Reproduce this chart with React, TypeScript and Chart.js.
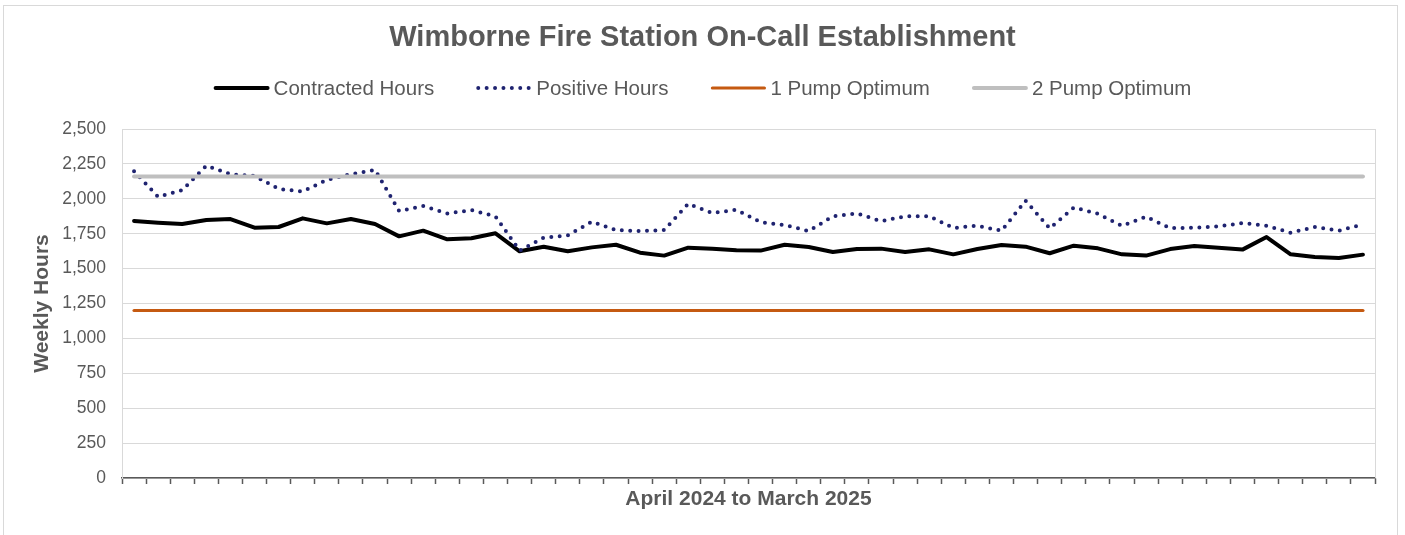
import React, { useEffect, useRef } from "react";
import { Chart, registerables } from "chart.js";

Chart.register(...registerables);

// ---- Data ----
const CATEGORIES: string[] = Array.from({ length: 52 }, (_, i) => `Week ${i + 1}`);

const CONTRACTED_HOURS: number[] = [
  1841, 1829, 1819, 1848, 1855, 1793, 1798, 1860, 1824, 1855,
  1819, 1731, 1772, 1710, 1717, 1753, 1624, 1657, 1624, 1652,
  1671, 1614, 1593, 1650, 1643, 1631, 1629, 1671, 1655, 1619,
  1640, 1643, 1619, 1638, 1602, 1640, 1669, 1657, 1610, 1664,
  1645, 1602, 1593, 1640, 1662, 1650, 1636, 1726, 1602, 1583,
  1576, 1600,
];

const POSITIVE_HOURS: number[] = [
  2198, 2014, 2062, 2238, 2176, 2164, 2071, 2052, 2136, 2176,
  2207, 1912, 1948, 1895, 1919, 1874, 1629, 1721, 1738, 1836,
  1776, 1769, 1776, 1964, 1898, 1921, 1833, 1812, 1769, 1874,
  1895, 1840, 1874, 1876, 1791, 1807, 1771, 1986, 1788, 1938,
  1893, 1807, 1871, 1790, 1793, 1802, 1826, 1807, 1757, 1798,
  1771, 1817,
];

const ONE_PUMP_OPTIMUM = 1200;
const TWO_PUMP_OPTIMUM = 2160;

const Y_MIN = 0;
const Y_MAX = 2500;
const Y_STEP = 250;

const TITLE = "Wimborne Fire Station On-Call Establishment";
const X_TITLE = "April 2024 to March 2025";
const Y_TITLE = "Weekly Hours";

// ---- Styles ----
const FONT = "'Liberation Sans', Arial, Helvetica, sans-serif";
const TEXT = "#595959";
const GRID = "#d9d9d9";

const customLegend = {
  id: "customLegend",
  afterDraw(chart: any) {
    const ctx = chart.ctx as CanvasRenderingContext2D;
    ctx.save();
    ctx.font = `20.5px ${FONT}`;
    const sample = 56;
    const gapText = 4;
    const gapItem = 42;
    const items = chart.data.datasets.map((ds: any) => ({
      ds,
      w: ctx.measureText(ds.label).width,
    }));
    const total =
      items.reduce((s: number, it: any) => s + sample + gapText + it.w, 0) +
      gapItem * (items.length - 1);
    let x = chart.width / 2 - total / 2;
    const y = 88;
    items.forEach(({ ds, w }: any) => {
      ctx.beginPath();
      ctx.strokeStyle = ds.borderColor;
      ctx.lineWidth = ds.borderWidth;
      ctx.lineCap = ds.borderCapStyle || "butt";
      ctx.setLineDash(ds.borderDash || []);
      ctx.moveTo(x + 2, y);
      ctx.lineTo(x + sample - 2, y);
      ctx.stroke();
      ctx.setLineDash([]);
      ctx.fillStyle = TEXT;
      ctx.textBaseline = "middle";
      ctx.textAlign = "left";
      ctx.fillText(ds.label, x + sample + gapText, y + 1);
      x += sample + gapText + w + gapItem;
    });
    ctx.restore();
  },
};

const plotBorder = {
  id: "plotBorder",
  beforeDatasetsDraw(chart: any) {
    const { ctx, chartArea } = chart;
    ctx.save();
    ctx.strokeStyle = GRID;
    ctx.lineWidth = 1;
    ctx.beginPath();
    ctx.moveTo(Math.round(chartArea.right) + 0.5, chartArea.top);
    ctx.lineTo(Math.round(chartArea.right) + 0.5, chartArea.bottom);
    ctx.stroke();
    ctx.restore();
  },
};

export default function App() {
  const canvasRef = useRef<HTMLCanvasElement | null>(null);

  useEffect(() => {
    if (!canvasRef.current) return;
    const chart = new Chart(canvasRef.current, {
      type: "line",
      data: {
        labels: CATEGORIES,
        datasets: [
          {
            label: "Contracted Hours",
            data: CONTRACTED_HOURS,
            borderColor: "#000000",
            backgroundColor: "#000000",
            borderWidth: 4,
            borderCapStyle: "round",
            borderJoinStyle: "round",
            pointRadius: 0,
            tension: 0,
            order: 4,
          },
          {
            label: "Positive Hours",
            data: POSITIVE_HOURS,
            borderColor: "#1f2370",
            backgroundColor: "#1f2370",
            borderWidth: 4,
            borderDash: [0, 8.4],
            borderCapStyle: "round",
            borderJoinStyle: "round",
            pointRadius: 0,
            tension: 0,
            order: 3,
          },
          {
            label: "1 Pump Optimum",
            data: CATEGORIES.map(() => ONE_PUMP_OPTIMUM),
            borderColor: "#c55a11",
            backgroundColor: "#c55a11",
            borderWidth: 3.2,
            borderCapStyle: "round",
            pointRadius: 0,
            order: 2,
          },
          {
            label: "2 Pump Optimum",
            data: CATEGORIES.map(() => TWO_PUMP_OPTIMUM),
            borderColor: "#bfbfbf",
            backgroundColor: "#bfbfbf",
            borderWidth: 4,
            borderCapStyle: "round",
            pointRadius: 0,
            order: 1,
          },
        ],
      },
      options: {
        responsive: true,
        maintainAspectRatio: false,
        animation: false,
        layout: { padding: 0 },
        plugins: {
          legend: { display: false },
          tooltip: { enabled: false },
          title: {
            display: true,
            text: TITLE,
            color: TEXT,
            font: { family: FONT, size: 29, weight: "bold" },
            padding: { top: 20.6, bottom: 73.6 },
          },
        },
        scales: {
          x: {
            type: "category",
            offset: true,
            grid: {
              display: true,
              drawOnChartArea: false,
              drawTicks: true,
              tickLength: 6,
              tickColor: "#595959",
              tickWidth: 1.5,
              offset: true,
            },
            border: { display: true, color: "#595959", width: 1.5 },
            ticks: { display: false, autoSkip: false },
            title: {
              display: true,
              text: X_TITLE,
              color: TEXT,
              font: { family: FONT, size: 21, weight: "bold" },
              padding: { top: 0, bottom: 23.4 },
            },
            afterFit: (s: any) => {
              s.height = 57;
            },
          },
          y: {
            type: "linear",
            position: "left",
            min: Y_MIN,
            max: Y_MAX,
            grid: { color: GRID, lineWidth: 1, drawTicks: false },
            border: { display: true, color: GRID, width: 1 },
            ticks: {
              stepSize: Y_STEP,
              color: TEXT,
              padding: 16,
              font: { family: FONT, size: 17.5 },
              callback: (v: any) => Number(v).toLocaleString("en-US"),
            },
            title: {
              display: true,
              text: Y_TITLE,
              color: TEXT,
              font: { family: FONT, size: 21, weight: "bold" },
              padding: { top: 29.4, bottom: 0 },
            },
            afterFit: (s: any) => {
              s.width = 122;
            },
          },
          yRight: {
            type: "linear",
            position: "right",
            display: true,
            grid: { display: false, drawOnChartArea: false },
            border: { display: false },
            ticks: { display: false },
            afterFit: (s: any) => {
              s.width = 30;
            },
          },
        },
      },
      plugins: [customLegend, plotBorder],
    });
    return () => chart.destroy();
  }, []);

  return (
    <div
      style={{
        position: "absolute",
        left: 0,
        top: 0,
        width: 1405,
        height: 535,
        background: "#ffffff",
        overflow: "hidden",
      }}
    >
      <div
        style={{
          position: "absolute",
          left: 3,
          top: 5,
          width: 1395,
          height: 560,
          border: "1px solid #d9d9d9",
          boxSizing: "border-box",
          pointerEvents: "none",
        }}
      />
      <canvas
        ref={canvasRef}
        style={{ position: "absolute", left: 0, top: 0, width: 1405, height: 535 }}
      />
    </div>
  );
}
